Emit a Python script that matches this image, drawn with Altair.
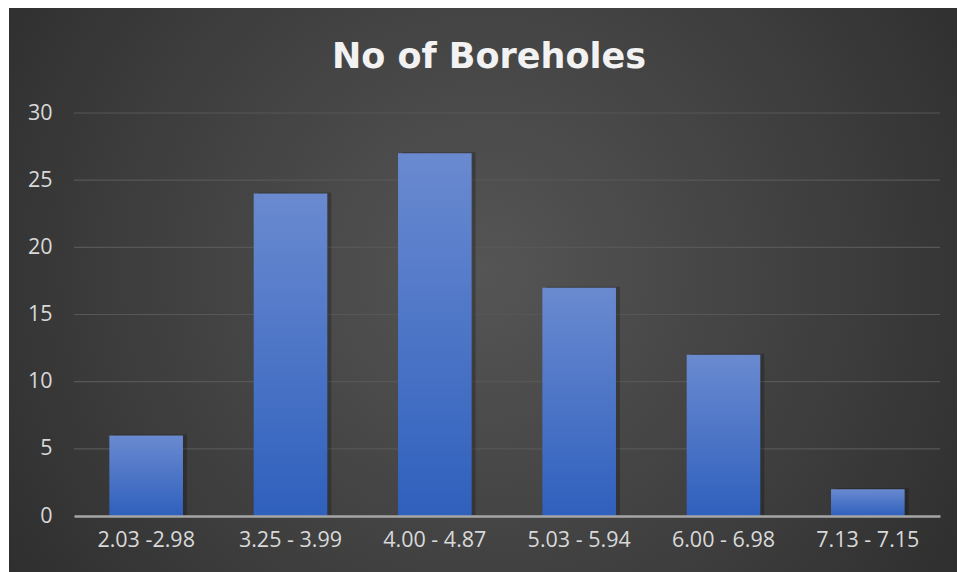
import altair as alt
import pandas as pd

categories = ["2.03 -2.98", "3.25 - 3.99", "4.00 - 4.87", "5.03 - 5.94", "6.00 - 6.98", "7.13 - 7.15"]
counts = [6, 24, 27, 17, 12, 2]
grid_values = [5, 10, 15, 20, 25, 30]
y_ticks = [0, 5, 10, 15, 20, 25, 30]
title_text = "No of Boreholes"

df = pd.DataFrame({"range": categories, "count": counts})
grid_df = pd.DataFrame({"v": grid_values})
bg_df = pd.DataFrame({"a": [0]})
title_df = pd.DataFrame({"t": [title_text]})

W, H = 866, 403

x_enc = alt.X("range:N", sort=categories, title=None,
              scale=alt.Scale(paddingInner=0.49, paddingOuter=0.245),
              axis=alt.Axis(labelAngle=0, labelFont="Open Sans", labelFontSize=21.5,
                            labelColor="#d9d9d9", labelPadding=13, ticks=False,
                            domainColor="#a6a6a6", domainWidth=2.5, grid=False, zindex=2))
y_scale = alt.Scale(domain=[0, 30], nice=False)
y_axis = alt.Axis(values=y_ticks, labelFont="Open Sans", labelFontSize=21.5,
                  labelColor="#d9d9d9", labelPadding=22, ticks=False, domain=False,
                  grid=False, zindex=2)

background = alt.Chart(bg_df).mark_rect(
    fill={"gradient": "radial", "x1": 0.5, "y1": 0.48, "r1": 0.0,
          "x2": 0.5, "y2": 0.48, "r2": 0.75,
          "stops": [{"offset": 0, "color": "#555555"},
                    {"offset": 0.55, "color": "#3b3b3b"},
                    {"offset": 1, "color": "#242424"}]},
    clip=False,
).encode(x=alt.value(-65), x2=alt.value(883), y=alt.value(-105), y2=alt.value(459))

title = alt.Chart(title_df).mark_text(
    font="DejaVu Sans", fontSize=35, fontWeight="bold", color="#f2f2f2",
    align="center", baseline="alphabetic",
).encode(text="t:N", x=alt.value(415), y=alt.value(-45))

grid = alt.Chart(grid_df).mark_rule(color="#575757", strokeWidth=1.2).encode(
    y=alt.Y("v:Q", scale=y_scale, title=None, axis=y_axis),
    x=alt.value(0), x2=alt.value(W),
)

shadow = alt.Chart(df).mark_bar(color="#000000", opacity=0.22, xOffset=4, yOffset=-1,
                                 x2Offset=5).encode(
    x=x_enc,
    y=alt.Y("count:Q", scale=y_scale, title=None, axis=y_axis),
)

bars = alt.Chart(df).mark_bar(
    fill={"gradient": "linear", "x1": 0, "y1": 0, "x2": 0, "y2": 1,
          "stops": [{"offset": 0, "color": "#6a8ad0"},
                    {"offset": 1, "color": "#2f60bd"}]},
).encode(
    x=x_enc,
    y=alt.Y("count:Q", scale=y_scale, title=None, axis=y_axis),
)

chart = alt.layer(background, title, grid, shadow, bars).properties(
    width=W, height=H,
    padding={"left": 74, "top": 113, "right": 18, "bottom": 56},
    autosize=alt.AutoSizeParams(type="none"),
    background="white",
).configure_view(stroke=None)

chart.save("out.html", embed_options={"renderer": "svg", "actions": False})
